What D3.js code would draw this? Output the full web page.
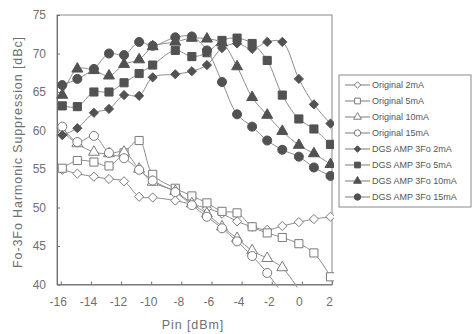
<!DOCTYPE html>
<html>
<head>
<meta charset="utf-8">
<script src="https://cdn.jsdelivr.net/npm/d3@7"></script>
<style>
  body { margin: 0; background: #fff; }
  svg { display: block; font-family: "Liberation Sans", Arial, sans-serif; }
  .axis text { fill: #707070; font-size: 12px; }
  .axis path, .axis line { stroke: #707070; }
  .title { fill: #707070; font-size: 12.5px; letter-spacing: 0.9px; }
  .legend text { fill: #555; font-size: 9px; }
</style>
</head>
<body>
<div id="chart"></div>
<script>
// Pin [dBm] of each measured point
const pin = [-15.9, -14.9, -13.8, -12.8, -11.8, -10.8, -9.9, -8.4, -7.3, -6.3, -5.3, -4.3, -3.3, -2.3, -1.3, -0.2, 0.8, 1.9];

// harmonic suppression [dBc]
const orig2 = [54.9, 54.4, 54.0, 53.7, 53.4, 51.4, 51.3, 50.9, 50.4, 49.9, 49.2, 48.2, 47.5, 47.1, 47.6, 48.1, 48.5, 48.8];
const orig5 = [55.1, 56.1, 55.9, 55.4, 57.1, 58.7, 54.3, 52.5, 51.5, 50.6, 49.5, 49.3, 47.5, 46.7, 46.1, 45.3, 44.1, 41.0];
const orig10 = [59.8, 58.3, 57.2, 57.0, 57.2, 55.0, 53.3, 52.1, 50.5, 49.2, 47.5, 46.0, 44.4, 43.4, 42.2, 39.3];
const orig15 = [60.5, 58.5, 59.3, 57.1, 56.4, 54.9, 53.5, 52.0, 50.3, 48.8, 47.3, 45.6, 43.7, 41.5, 38.8];
const dgs2 = [59.4, 60.3, 62.3, 62.8, 64.6, 64.5, 66.9, 67.3, 67.7, 68.5, 70.7, 71.3, 70.6, 71.5, 71.5, 66.7, 63.4, 60.9];
const dgs5 = [63.2, 63.1, 65.0, 65.0, 66.2, 67.4, 68.5, 70.4, 69.6, 70.1, 71.7, 72.0, 71.3, 69.1, 64.6, 61.5, 60.2, 58.2];
const dgs10 = [64.6, 68.0, 67.8, 67.1, 68.6, 69.2, 70.9, 71.5, 72.0, 71.9, 71.4, 68.3, 64.3, 62.0, 59.9, 58.1, 57.0, 55.6];
const dgs15 = [65.9, 66.7, 68.0, 70.0, 69.8, 71.5, 71.0, 72.1, 72.2, 70.4, 66.3, 62.1, 60.5, 58.7, 57.5, 56.6, 55.2, 54.1];

const seriesNames = ["Original 2mA", "Original 5mA", "Original 10mA", "Original 15mA",
  "DGS AMP 3Fo 2mA", "DGS AMP 3Fo 5mA", "DGS AMP 3Fo 10mA", "DGS AMP 3Fo 15mA"];
const seriesValues = [orig2, orig5, orig10, orig15, dgs2, dgs5, dgs10, dgs15];

const xTicks = [-16, -14, -12, -10, -8, -6, -4, -2, 0, 2];
const yTicks = [40, 45, 50, 55, 60, 65, 70, 75];

function drawChart(width, height, selector) {

  let margin = { top: 15, left: 57, right: 140, bottom: 49.5 };
  let chartWidth = width - margin.left - margin.right;
  let chartHeight = height - margin.top - margin.bottom;

  // scales
  let xPositionScale = d3.scaleLinear()
    .domain([-16.25, 2])
    .range([0, chartWidth]);

  let yPositionScale = d3.scaleLinear()
    .domain([40, 75])
    .range([chartHeight, 0]);

  let line = d3.line()
    .curve(d3.curveCatmullRom)
    .x(d => xPositionScale(d.x))
    .y(d => yPositionScale(d.y));

  // rotated square
  let diamond = {
    draw(ctx, size) {
      let r = Math.sqrt(size / 2);
      ctx.moveTo(0, -r); ctx.lineTo(r, 0); ctx.lineTo(0, r); ctx.lineTo(-r, 0); ctx.closePath();
    }
  };
  let shapes = [diamond, d3.symbolSquare, d3.symbolTriangle, d3.symbolCircle];
  let sizes = [42, 66, 52, 64];

  let svg = d3.select(selector)
    .append("svg")
    .attr("width", width)
    .attr("height", height);

  svg.append("defs").append("clipPath")
    .attr("id", "plot-clip")
    .append("rect")
    .attr("x", -2)
    .attr("y", -2)
    .attr("width", chartWidth + 4)
    .attr("height", chartHeight + 5);

  let chart = svg.append("g")
    .attr("transform", "translate(" + margin.left + "," + margin.top + ")");

  // plot frame
  chart.append("rect")
    .attr("width", chartWidth)
    .attr("height", chartHeight)
    .attr("fill", "none")
    .attr("stroke", "#8a8a8a");

  // axes
  let xAxis = d3.axisBottom(xPositionScale)
    .tickValues(xTicks)
    .tickSizeInner(-3)
    .tickSizeOuter(0)
    .tickPadding(13)
    .tickFormat(d => String(d));

  chart.append("g")
    .attr("class", "axis x-axis")
    .attr("transform", "translate(0," + chartHeight + ")")
    .call(xAxis);

  let yAxis = d3.axisLeft(yPositionScale)
    .tickValues(yTicks)
    .tickSizeInner(-3)
    .tickSizeOuter(0)
    .tickPadding(11)
    .tickFormat(d => String(d));

  chart.append("g")
    .attr("class", "axis y-axis")
    .call(yAxis);

  // nudge x labels a bit left
  chart.selectAll(".x-axis .tick text").attr("dx", -3);

  // series
  let plot = chart.append("g").attr("clip-path", "url(#plot-clip)");

  seriesValues.forEach(function(values, i) {
    let data = values.map((v, j) => ({ x: pin[j], y: v }));
    let filled = i >= 4;

    plot.append("path")
      .attr("d", line(data))
      .attr("fill", "none")
      .attr("stroke", "#8c8c8c")
      .attr("stroke-width", 1);

    plot.selectAll(".pt-" + i)
      .data(data.filter(d => d.y >= 40))
      .join("path")
      .attr("class", "pt-" + i)
      .attr("transform", d => "translate(" + xPositionScale(d.x) + "," + yPositionScale(d.y) + ")")
      .attr("d", d3.symbol().type(shapes[i % 4]).size(sizes[i % 4]))
      .attr("fill", filled ? "#525252" : "#fff")
      .attr("stroke", filled ? "#525252" : "#7a7a7a")
      .attr("stroke-width", 1);
  });

  // axis titles
  svg.append("text")
    .attr("class", "title")
    .attr("x", 193)
    .attr("y", 329)
    .attr("text-anchor", "middle")
    .text("Pin [dBm]");

  svg.append("text")
    .attr("class", "title")
    .attr("transform", "translate(22,152) rotate(-90)")
    .attr("text-anchor", "middle")
    .text("Fo-3Fo Harmonic Suppression [dBc]");

  // legend
  let legend = svg.append("g")
    .attr("class", "legend")
    .attr("transform", "translate(339,75)");

  legend.append("rect")
    .attr("width", 132)
    .attr("height", 132)
    .attr("fill", "#fff")
    .attr("stroke", "#8a8a8a");

  seriesNames.forEach(function(name, i) {
    let row = legend.append("g")
      .attr("transform", "translate(0," + (10 + i * 16) + ")");
    let filled = i >= 4;

    row.append("line")
      .attr("x1", 6)
      .attr("x2", 31)
      .attr("stroke", "#7a7a7a");

    row.append("path")
      .attr("transform", "translate(18.5,0)")
      .attr("d", d3.symbol().type(shapes[i % 4]).size(sizes[i % 4] * 0.5))
      .attr("fill", filled ? "#525252" : "#fff")
      .attr("stroke", filled ? "#525252" : "#7a7a7a");

    row.append("text")
      .attr("x", 33)
      .attr("dy", "0.35em")
      .text(name);
  });
}

drawChart(472, 334, "#chart");
</script>
</body>
</html>
